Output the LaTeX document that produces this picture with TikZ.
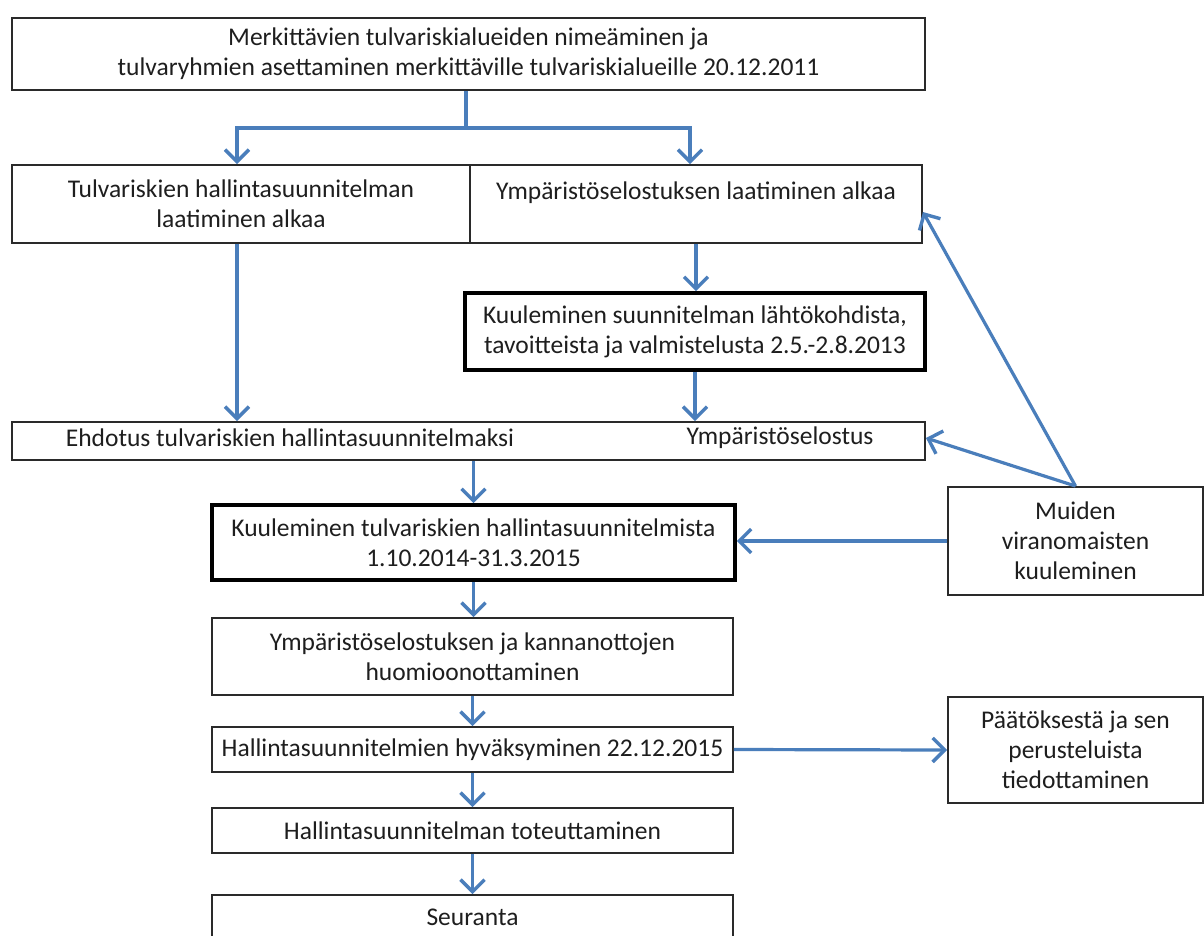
\documentclass[tikz,border=0pt]{standalone}
\usepackage{fontspec}
\setmainfont{Carlito}
\usetikzlibrary{arrows.meta,calc}
\definecolor{arrblue}{HTML}{4A7EBB}
\definecolor{boxgray}{HTML}{2A2A2A}
\definecolor{textgray}{HTML}{1E1E1E}
\begin{document}
\begin{tikzpicture}[x=1pt,y=-1pt,
  box/.style={draw=boxgray,line width=1.9pt,fill=white,align=center,inner sep=0pt,font=\fontsize{25.5}{30}\selectfont,text=textgray},
  thickbox/.style={box,draw=black,line width=3.6pt},
  lbl/.style={align=center,inner sep=0pt,font=\fontsize{25.5}{30}\selectfont,text=textgray},
  conn/.style={draw=arrblue,line width=3.2pt},
  arr/.style={conn,-{Straight Barb[length=12pt,width=24pt,line width=3.4pt]}}]
\clip (0,0) rectangle (1204,936);
\fill[white] (0,0) rectangle (1204,936);

\node[box,minimum width=913pt,minimum height=72pt] (top) at (468.5,54)
  {Merkittävien tulvariskialueiden nimeäminen ja\\tulvaryhmien asettaminen merkittäville tulvariskialueille 20.12.2011};
\node[box,minimum width=458pt,minimum height=78pt] (left) at (241,204)
  {Tulvariskien hallintasuunnitelman\\laatiminen alkaa};
\node[box,minimum width=452pt,minimum height=78pt] (right) at (696,204) {};
\node[lbl] (rightT) at (696,193) {Ympäristöselostuksen laatiminen alkaa};
\node[thickbox,minimum width=460pt,minimum height=77pt] (kuul1) at (695,331.5)
  {Kuuleminen suunnitelman lähtökohdista,\\tavoitteista ja valmistelusta 2.5.-2.8.2013};
\node[box,minimum width=913pt,minimum height=38pt] (ehd) at (468.5,441) {};
\node[lbl] (ehdL) at (290,438) {Ehdotus tulvariskien hallintasuunnitelmaksi};
\node[lbl] (ehdR) at (780,438) {Ympäristöselostus};
\node[thickbox,minimum width=523pt,minimum height=75pt] (kuul2) at (473.5,542.5)
  {Kuuleminen tulvariskien hallintasuunnitelmista\\1.10.2014-31.3.2015};
\node[box,minimum width=255pt,minimum height=108pt] (muiden) at (1075.5,541)
  {Muiden\\viranomaisten\\kuuleminen};
\node[box,minimum width=521pt,minimum height=77pt] (ymp) at (472.5,656.5)
  {Ympäristöselostuksen ja kannanottojen\\huomioonottaminen};
\node[box,minimum width=521pt,minimum height=45pt] (hyv) at (472.5,749.5)
  {Hallintasuunnitelmien hyväksyminen 22.12.2015};
\node[box,minimum width=255pt,minimum height=106pt] (paat) at (1075.5,750)
  {Päätöksestä ja sen\\perusteluista\\tiedottaminen};
\node[box,minimum width=521pt,minimum height=45pt] (tot) at (472.5,830.5)
  {Hallintasuunnitelman toteuttaminen};
\node[box,minimum width=521pt,minimum height=70pt] (seur) at (472.5,930) {};
\node[lbl] (seurT) at (472.5,917) {Seuranta};

\coordinate (br) at (466,128);
\draw[conn] (top.south -| br) -- (br);
\draw[arr] (br) -| ([xshift=-4pt]left.north);
\draw[arr] (br) -| ([xshift=-6pt]right.north);
\draw[arr] ([xshift=-4pt]left.south) -- ([xshift=-4pt]left.south |- ehd.north);
\draw[arr] (right.south) -- (right.south |- kuul1.north);
\draw[arr] (kuul1.south) -- (kuul1.south |- ehd.north);
\draw[arr] (kuul2.north |- ehd.south) -- (kuul2.north);
\draw[arr] (muiden.west) -- (muiden.west -| kuul2.east);
\draw[arr] (muiden.north) -- ([yshift=-8pt]right.east);
\draw[arr] (muiden.north) -- ([yshift=3pt]ehd.east);
\draw[arr] (kuul2.south) -- (kuul2.south |- ymp.north);
\draw[arr] (ymp.south) -- (hyv.north);
\draw[arr] (hyv.east) -- (paat.west);
\draw[arr] (hyv.south) -- (tot.north);
\draw[arr] (tot.south) -- (seur.north);
\end{tikzpicture}
\end{document}
